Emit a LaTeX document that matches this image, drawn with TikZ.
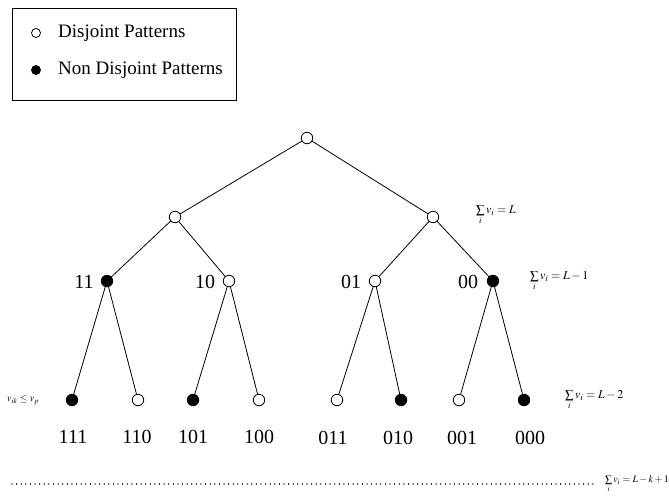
\documentclass[tikz,border=0pt]{standalone}
\usepackage{mathptmx}
\usepackage{fontspec}
\setmainfont{Liberation Serif}
\begin{document}
\begin{tikzpicture}[x=1pt,y=-1pt,
  open/.style={circle,draw,line width=0.8pt,fill=white,minimum size=11.5pt,inner sep=0pt},
  full/.style={circle,draw,line width=0.8pt,fill=black,minimum size=11.5pt,inner sep=0pt},
  edge/.style={line width=0.8pt},
  bits/.style={font=\fontsize{20}{22}\selectfont,inner sep=0pt},
  sumlab/.style={font=\fontsize{12}{13}\selectfont,anchor=west,inner sep=0pt},
  legtext/.style={font=\fontsize{19}{21}\selectfont,anchor=west,inner sep=0pt}]
\useasboundingbox (0,0) rectangle (669,498);

% legend
\node[draw,line width=0.8pt,minimum width=224pt,minimum height=92pt,anchor=north west,inner sep=0pt] (legend) at (12,8) {};
\node[open,minimum size=9pt] (lo) at (36,33) {};
\node[legtext] (lotext) at (58,33) {Disjoint Patterns};
\node[full,minimum size=9pt] (lf) at (36,70) {};
\node[legtext] (lftext) at (58,70) {Non Disjoint Patterns};

% tree nodes
\node[open] (r) at (307,138) {};
\node[open] (a1) at (175,217) {};
\node[open] (a0) at (433,217) {};
\node[full] (b11) at (107,281) {};
\node[open] (b10) at (229,281) {};
\node[open] (b01) at (375,281) {};
\node[full] (b00) at (493,281) {};
\node[full] (c111) at (72,400) {};
\node[open] (c110) at (138,400) {};
\node[full] (c101) at (193,400) {};
\node[open] (c100) at (259,400) {};
\node[open] (c011) at (337,400) {};
\node[full] (c010) at (401,400) {};
\node[open] (c001) at (459,400) {};
\node[full] (c000) at (524,400) {};

% branches
\draw[edge] (r) -- (a1);
\draw[edge] (r) -- (a0);
\draw[edge] (a1) -- (b11);
\draw[edge] (a1) -- (b10);
\draw[edge] (a0) -- (b01);
\draw[edge] (a0) -- (b00);
\draw[edge] (b11) -- (c111);
\draw[edge] (b11) -- (c110);
\draw[edge] (b10) -- (c101);
\draw[edge] (b10) -- (c100);
\draw[edge] (b01) -- (c011);
\draw[edge] (b01) -- (c010);
\draw[edge] (b00) -- (c001);
\draw[edge] (b00) -- (c000);

% prefix labels
\node[bits] (l11) at (84,282) {11};
\node[bits] (l10) at (205,282) {10};
\node[bits] (l01) at (351,282) {01};
\node[bits] (l00) at (468,282) {00};

% leaf labels
\node[bits] (l111) at (73,437) {111};
\node[bits] (l110) at (137,437) {110};
\node[bits] (l101) at (193,437) {101};
\node[bits] (l100) at (259,437) {100};
\node[bits] (l011) at (333,438) {011};
\node[bits] (l010) at (398,438) {010};
\node[bits] (l001) at (462,438) {001};
\node[bits] (l000) at (530,438) {000};

% level sums
\node[sumlab] (s1) at (476,215) {$\sum\limits_i v_i = L$};
\node[sumlab] (s2) at (530,281) {$\sum\limits_i v_i = L-1$};
\node[sumlab] (s3) at (565,400) {$\sum\limits_i v_i = L-2$};
\node[sumlab,font=\fontsize{10}{11}\selectfont,anchor=east] (s4) at (669,484) {$\sum\limits_i v_i = L-k+1$};
\node[sumlab,font=\fontsize{10}{11}\selectfont] (cond) at (7,400) {$v_{ik} \le v_p$};

% last level
\coordinate (dl) at (12,484);
\coordinate (dr) at (594,484);
\draw[line width=1.2pt,dash pattern=on 0.01pt off 4.6pt,line cap=round] (dl) -- (dr);
\end{tikzpicture}
\end{document}
